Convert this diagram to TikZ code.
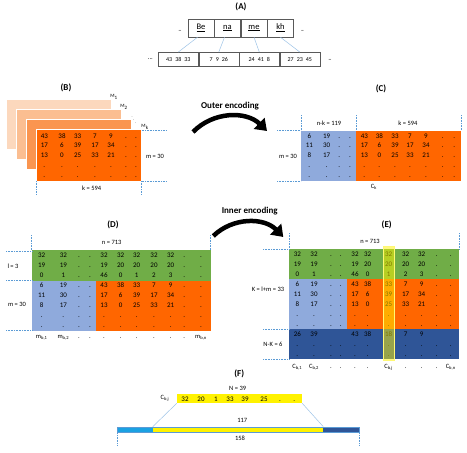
\documentclass[tikz,border=0pt]{standalone}
\usepackage{fontspec}
\setmainfont{Carlito}
\usetikzlibrary{positioning,arrows.meta}

\definecolor{mgreen}{HTML}{70AD47}
\definecolor{mblue}{HTML}{8FAADC}
\definecolor{morange}{HTML}{FF6600}
\definecolor{mnavy}{HTML}{2F5597}
\definecolor{mcyan}{HTML}{1BA1E2}
\definecolor{dimblue}{HTML}{5B9BD5}
\definecolor{linkblue}{HTML}{9DC3E6}
\definecolor{sheetA}{HTML}{FCD8BD}
\definecolor{sheetB}{HTML}{FBBE91}
\definecolor{sheetC}{HTML}{FA9550}

\begin{document}
\begin{tikzpicture}[x=1pt,y=-1pt,
    panel/.style={font=\fontsize{9}{11}\selectfont\bfseries},
    num/.style={font=\fontsize{7}{8}\selectfont, inner sep=0pt, anchor=base},
    dimtext/.style={font=\fontsize{6.5}{8}\selectfont, inner sep=0pt},
    dimline/.style={draw=dimblue, densely dotted, line width=0.6pt},
    syl/.style={draw=black!65, line width=0.5pt, minimum width=26pt, minimum height=18pt, inner sep=0pt, font=\fontsize{8.5}{10}\selectfont},
    seg/.style={draw=black!65, line width=0.5pt, minimum width=40pt, minimum height=14pt, inner sep=0pt, font=\fontsize{6}{7}\selectfont},
    link/.style={draw=linkblue, line width=0.5pt},
    sheet/.style={draw=white, line width=0.8pt},
    bigarrow/.style={line width=4.5pt, -{Triangle[length=11pt,width=15pt]}},
    bar/.style={inner sep=0pt, outer sep=0pt, minimum height=5pt}]
\useasboundingbox (0,0) rectangle (467,453);

% (A) syllables and their codes
\node[panel] (pa) at (241,7) {(A)};
\node[syl] (be) at (201,28) {\underline{Be}};
\node[syl, right=0pt of be] (na) {\underline{na}};
\node[syl, right=0pt of na] (me) {\underline{me}};
\node[syl, right=0pt of me] (kh) {\underline{kh}};
\node[dimtext, left=6pt of be, yshift=-3pt] (atl) {--};
\node[dimtext, right=7pt of kh, yshift=-3pt] (atr) {--};
\node[seg] (s1) at (178.3,59.3) {43\enspace 38\enspace 33};
\node[seg, right=0pt of s1] (s2) {7\enspace 9\enspace 26};
\node[seg, right=0pt of s2] (s3) {24\enspace 41\enspace 8};
\node[seg, right=0pt of s3] (s4) {27\enspace 23\enspace 45};
\node[dimtext, left=5pt of s1] (abl) {...};
\node[dimtext, right=8pt of s4, yshift=-1pt] (abr) {--};
\draw[link] ([xshift=-3.5pt]be.south) -- (s1.north);
\draw[link] ([xshift=-3pt]na.south) -- (s2.north);
\draw[link] (me.south) -- (s3.north);
\draw[link] (kh.south) -- (s4.north);

% (B) stack of matrices
\node[panel] (pb) at (66,88) {(B)};
\filldraw[sheet, fill=sheetA] (6.7,99) rectangle (111,149);
\filldraw[sheet, fill=sheetB] (16.7,109) rectangle (121,159);
\filldraw[sheet, fill=sheetC] (26.7,119.3) rectangle (131,169);
\filldraw[sheet, fill=morange] (36.7,129.3) rectangle (141.7,181);
\node[dimtext, font=\fontsize{5}{6}\selectfont] (mk1) at (114,97) {M\textsubscript{1}};
\node[dimtext, font=\fontsize{5}{6}\selectfont] (mk2) at (124,107) {M\textsubscript{2}};
\node[dimtext, font=\fontsize{4}{5}\selectfont] (mkd) at (134,117) {$\ddots$};
\node[dimtext, font=\fontsize{5}{6}\selectfont] (mkk) at (145,127) {M\textsubscript{k}};
\def\bcols{{44.3,62,77.7,95,111,126,136}}
\foreach \row [count=\r] in {{43,38,33,7,9,.,.},{17,6,39,17,34,.,.},{13,0,25,33,21,.,.},{.,.,.,.,.,.,.},{.,.,.,.,.,.,.}}
  \foreach \v [count=\c] in \row {
    \pgfmathsetmacro\xx{\bcols[\c-1]}
    \node[num] (b-\r-\c) at (\xx,{138+9.8*(\r-1)}) {\v};
  }
\draw[dimline] (141.7,130) -- (166,130);
\draw[dimline] (141.7,181) -- (166,181);
\draw[dimline] (36.7,181) -- (36.7,195);
\draw[dimline] (141.7,181) -- (141.7,195);
\node[dimtext] (bm) at (155,156) {m = 30};
\node[dimtext] (bk) at (91.7,188) {k = 594};

% outer encoding
\coordinate (outS) at (193,132);
\coordinate (outE) at (267,131);
\draw[bigarrow] (outS) to[bend left=45] (outE);
\node[panel] (outer) at (230,106) {Outer encoding};

% (C) codeword matrix
\node[panel] (pc) at (381,89) {(C)};
\fill[mblue] (301,130.7) rectangle (356,181);
\fill[morange] (356,130.7) rectangle (461,181);
\def\ccols{{309.3,326.7,339.3,350,364.3,379.3,395,410,426,442.7,454.3}}
\foreach \row [count=\r] in {{6,19,.,.,43,38,33,7,9,.,.},{11,30,.,.,17,6,39,17,34,.,.},{8,17,.,.,13,0,25,33,21,.,.},{.,.,.,.,.,.,.,.,.,.,.},{.,.,.,.,.,.,.,.,.,.,.}}
  \foreach \v [count=\c] in \row {
    \pgfmathsetmacro\xx{\ccols[\c-1]}
    \node[num] (c-\r-\c) at (\xx,{138+9.8*(\r-1)}) {\v};
  }
\draw[dimline] (301,115) -- (301,130.7);
\draw[dimline] (356,115) -- (356,130.7);
\draw[dimline] (461,115) -- (461,130.7);
\draw[dimline] (277,130.7) -- (301,130.7);
\draw[dimline] (277,181) -- (301,181);
\node[dimtext] (cnk) at (329,123) {n-k = 119};
\node[dimtext] (ck) at (408,123) {k = 594};
\node[dimtext] (cm) at (288,156) {m = 30};
\node[dimtext] (cl) at (374,187) {C\textsubscript{k}};

% (D) after outer encoding
\node[panel] (pd) at (113,225) {(D)};
\fill[mgreen] (31.7,250) rectangle (210.7,280.7);
\fill[mblue] (31.7,280.7) rectangle (96,331);
\fill[morange] (96,280.7) rectangle (210.7,331);
\def\dcols{{41.7,63.3,79,90,104,120.7,136.7,154,170.7,184.3,201}}
\foreach \row [count=\r] in {{32,32,.,.,32,32,32,32,32,.,.},{19,19,.,.,19,20,20,20,20,.,.},{0,1,.,.,46,0,1,2,3,.,.},{6,19,.,.,43,38,33,7,9,.,.},{11,30,.,.,17,6,39,17,34,.,.},{8,17,.,.,13,0,25,33,21,.,.},{.,.,.,.,.,.,.,.,.,.,.},{.,.,.,.,.,.,.,.,.,.,.}}
  \foreach \v [count=\c] in \row {
    \pgfmathsetmacro\xx{\dcols[\c-1]}
    \node[num] (d-\r-\c) at (\xx,{257.2+10*(\r-1)}) {\v};
  }
\foreach \x/\t [count=\i] in {41.7/{m\textsubscript{b,1}},63.3/{m\textsubscript{b,2}},79/.,90/.,104/.,120.7/.,136.7/.,154/.,170.7/.,184.3/.,201/{m\textsubscript{b,n}}}
  \node[dimtext, anchor=base] (dl-\i) at (\x,338) {\t};
\draw[dimline] (31.7,235) -- (31.7,250);
\draw[dimline] (210.7,235) -- (210.7,250);
\draw[dimline] (6,251) -- (31.7,251);
\draw[dimline] (6,280.5) -- (31.7,280.5);
\draw[dimline] (6,330) -- (31.7,330);
\node[dimtext] (dn) at (111.7,242.7) {n = 713};
\node[dimtext] (dl) at (13,266) {l = 3};
\node[dimtext] (dm) at (17,304) {m = 30};

% inner encoding
\coordinate (inS) at (213.3,236);
\coordinate (inE) at (283.3,237);
\draw[bigarrow] (inS) to[bend left=45] (inE);
\node[panel] (inner) at (249.7,210.7) {Inner encoding};

% (E) after inner encoding
\node[panel] (pe) at (386.7,225) {(E)};
\fill[mgreen] (289,249.3) rectangle (459.3,279.3);
\fill[mblue] (289,279.3) rectangle (346.7,329.3);
\fill[morange] (346.7,279.3) rectangle (459.3,329.3);
\fill[mnavy] (289,329.3) rectangle (459.3,359.3);
\def\ecols{{297.3,314,331,340.7,355,367.7,388.7,405.7,421.7,436.7,450.7}}
\foreach \row [count=\r] in {{32,32,.,.,32,32,32,32,32,.,.},{19,19,.,.,19,20,20,20,20,.,.},{0,1,.,.,46,0,1,2,3,.,.},{6,19,.,.,43,38,33,7,9,.,.},{11,30,.,.,17,6,39,17,34,.,.},{8,17,.,.,13,0,25,33,21,.,.},{.,.,.,.,.,.,.,.,.,.,.},{.,.,.,.,.,.,.,.,.,.,.},{26,39,{},{},43,38,18,7,9,{},{}},{.,.,.,.,.,.,.,.,.,.,.},{.,.,.,.,.,.,.,.,.,.,.}}
  \foreach \v [count=\c] in \row {
    \pgfmathsetmacro\xx{\ecols[\c-1]}
    \node[num] (e-\r-\c) at (\xx,{256.5+10*(\r-1)}) {\v};
  }
\filldraw[fill=yellow, fill opacity=0.5, draw=yellow!55!white, line width=0.8pt] (383.3,246) rectangle (394,360.7);
\foreach \x/\t [count=\i] in {297.3/{C\textsubscript{b,1}},314/{C\textsubscript{b,2}},331/.,340.7/.,355/.,367.7/.,388.7/{C\textsubscript{b,j}},405.7/.,421.7/.,436.7/.,450.7/{C\textsubscript{b,n}}}
  \node[dimtext, anchor=base] (el-\i) at (\x,368) {\t};
\draw[dimline] (289,233) -- (289,249.3);
\draw[dimline] (459.3,233) -- (459.3,249.3);
\draw[dimline] (263,249.3) -- (289,249.3);
\draw[dimline] (263,329.3) -- (289,329.3);
\draw[dimline] (263,359.3) -- (289,359.3);
\node[dimtext] (en) at (370,241.7) {n = 713};
\node[dimtext] (ek) at (268,289) {K = l+m = 33};
\node[dimtext] (enk) at (273,344) {N-K = 6};

% (F) one column as a strand
\node[panel] (pf) at (239.3,374.3) {(F)};
\node[dimtext] (fn) at (237.7,388.3) {N = 39};
\node[fill=yellow, minimum width=125.6pt, minimum height=9.3pt, inner sep=0pt, outer sep=0pt] (cbj) at (239.5,398.7) {};
\node[dimtext] (fc) at (165,398.3) {C\textsubscript{b,j}};
\foreach \x/\v [count=\i] in {185/32,201/20,216/1,230/33,245/39,264/25,280/.,294.3/.}
  \node[num] (f-\i) at (\x,401) {\v};
\node[bar, fill=yellow, minimum width=170.6pt] (bary) at (238,429.2) {};
\node[bar, fill=mcyan, minimum width=35.4pt, anchor=east] (barl) at (bary.west) {};
\node[bar, fill=mnavy, minimum width=36pt, anchor=west] (barr) at (bary.east) {};
\draw[dimblue, line width=0.4pt] (barl.north west) rectangle (barr.south east);
\draw[link] (cbj.south west) -- (bary.north west);
\draw[link] (cbj.south east) -- (bary.north east);
\draw[dimline] (barl.south west) -- ++(0,14.3);
\draw[dimline] (barr.south east) -- ++(0,14.3);
\node[dimtext] (f117) at (242.3,420.7) {117};
\node[dimtext] (f158) at (240,438) {158};
\end{tikzpicture}
\end{document}
